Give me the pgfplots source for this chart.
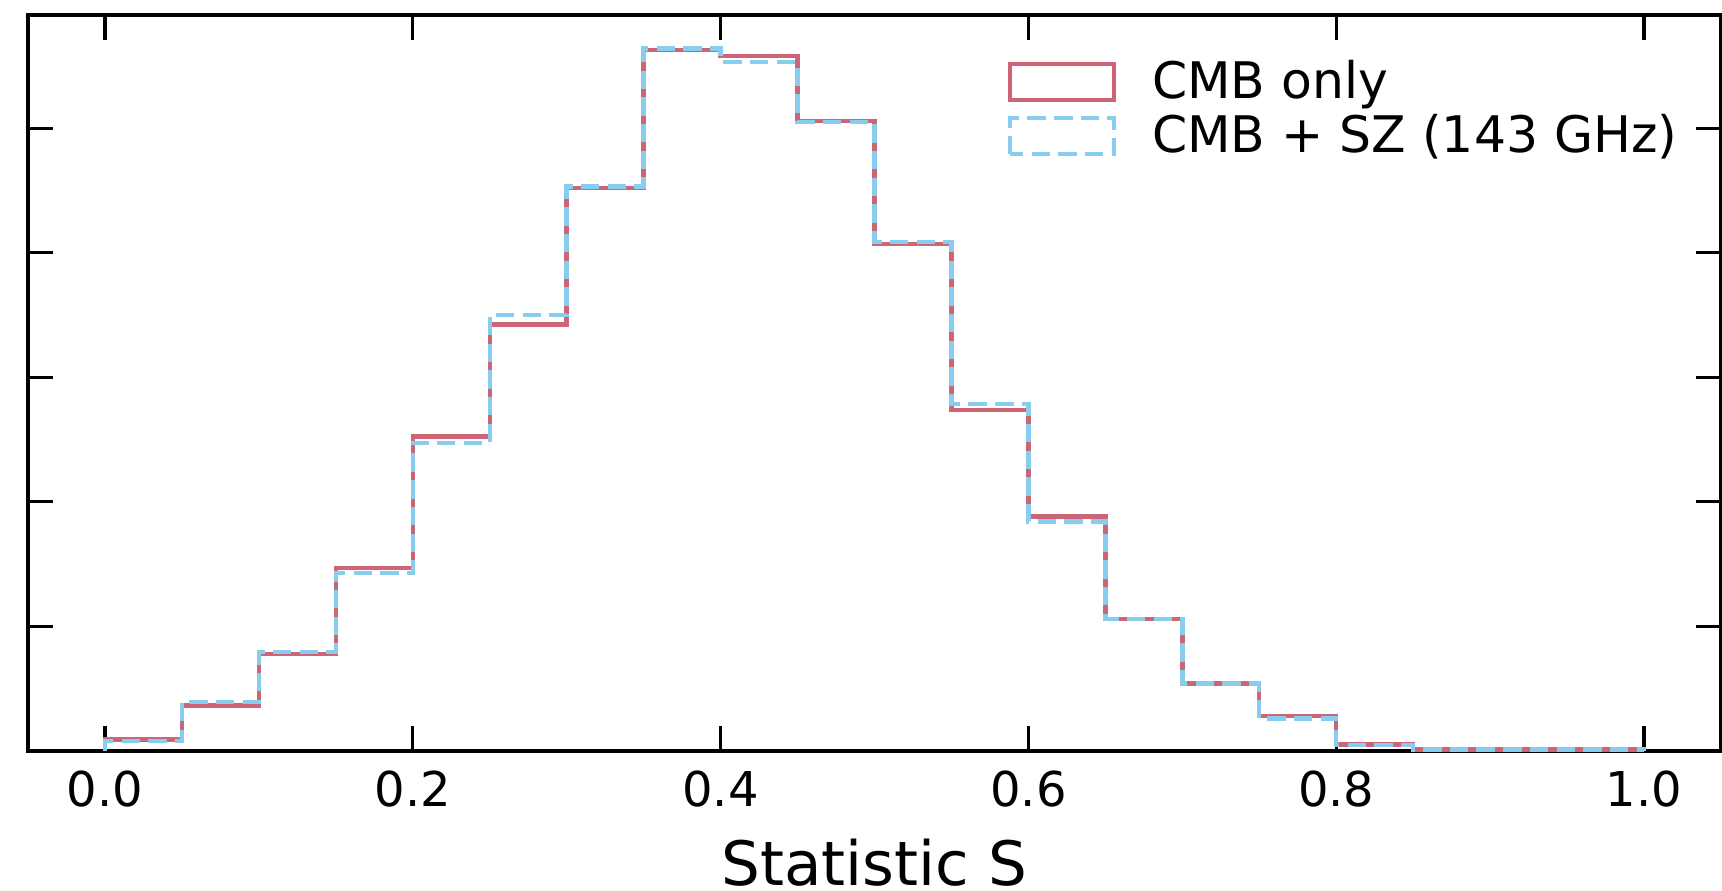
\documentclass[border=0pt]{standalone}
\usepackage{fontspec}
\setmainfont{DejaVu Sans}
\usepackage{pgfplots}
\usepackage{pgfplotstable}
\pgfplotsset{compat=1.18}
\usetikzlibrary{calc}
\definecolor{tolred}{HTML}{CC6677}
\definecolor{tolcyan}{HTML}{88CCEE}

\pgfplotstableread{
x y
0.00 0
0.00 0.092
0.05 0.365
0.10 0.780
0.15 1.470
0.20 2.526
0.25 3.424
0.30 4.519
0.35 5.628
0.40 5.580
0.45 5.056
0.50 4.069
0.55 2.740
0.60 1.884
0.65 1.061
0.70 0.542
0.75 0.279
0.80 0.052
0.85 0.012
0.90 0.012
0.95 0.012
1.00 0.012
1.00 0
}\cmbonly

\pgfplotstableread{
x y
0.00 0
0.00 0.080
0.05 0.395
0.10 0.793
0.15 1.430
0.20 2.475
0.25 3.502
0.30 4.532
0.35 5.639
0.40 5.532
0.45 5.048
0.50 4.085
0.55 2.788
0.60 1.844
0.65 1.061
0.70 0.542
0.75 0.261
0.80 0.048
0.85 0.012
0.90 0.012
0.95 0.012
1.00 0.012
1.00 0
}\cmbsz

\begin{document}
\begin{tikzpicture}
\begin{axis}[
  name=ax,
  scale only axis,
  width=423.25pt, height=184pt,
  xmin=-0.05, xmax=1.05, ymin=0, ymax=5.909,
  xtick={0,0.2,0.4,0.6,0.8,1.0},
  xticklabels={0.0,0.2,0.4,0.6,0.8,1.0},
  ytick={1,2,3,4,5}, yticklabels={},
  tick align=inside,
  tick pos=both,
  major tick length=6.25pt,
  every tick/.style={black, line width=0.8pt},
  axis line style={line width=0.83pt},
  tick label style={font=\fontsize{12}{14}\selectfont},
  xticklabel style={anchor=base, yshift=-13.8pt},
  xlabel={Statistic S},
  xlabel style={font=\fontsize{15.3}{18}\selectfont, at={(axis description cs:0.5,0)}, anchor=base, yshift=-33.6pt},
  legend cell align=left,
  legend image code/.code={\draw[#1] (0pt,-4.5pt) rectangle (26pt,4.5pt);},
  legend style={draw=none, fill=none, font=\fontsize{12.6}{14}\selectfont,
    at={(axis description cs:0.5783,0.951)}, anchor=north west,
    inner sep=0pt, column sep=7pt, row sep=-1.5pt},
]
\addplot[const plot mark left, no markers, color=tolred, line width=1.1pt] table[x=x,y=y] {\cmbonly};
\addlegendentry{CMB only}
\addplot[const plot mark left, no markers, color=tolcyan, line width=1.1pt, dash pattern=on 4.6pt off 2.07pt] table[x=x,y=y] {\cmbsz};
\addlegendentry{CMB + SZ (143 GHz)}
\end{axis}
\pgfresetboundingbox
\path[use as bounding box] ($(ax.south west)+(-7pt,-34.9pt)$) rectangle ($(ax.north east)+(0.25pt,3.75pt)$);
\end{tikzpicture}
\end{document}
